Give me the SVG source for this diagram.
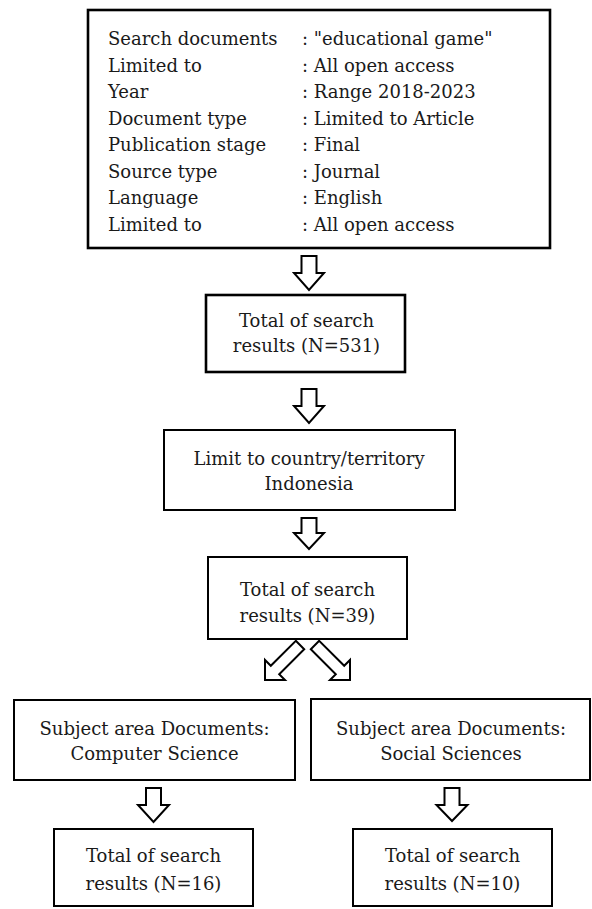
<svg xmlns="http://www.w3.org/2000/svg" width="592" height="909" viewBox="0 0 592 909">
<style>
  .box { fill: #ffffff; stroke: #000000; stroke-width: 2; }
  .thick { stroke-width: 2.6; }
  .t { font-family: "DejaVu Serif", "Liberation Serif", serif; font-size: 18px; fill: #1a1a1a; }
  .c { text-anchor: middle; }
  .arrow { fill: #ffffff; stroke: #000000; stroke-width: 2; stroke-linejoin: miter; }
</style>
<rect width="592" height="909" fill="#ffffff"/>

<g id="criteria">
  <rect class="box thick" x="88" y="10" width="462" height="238"/>
  <text class="t" x="108" y="45">Search documents</text>
  <text class="t" x="302" y="45">: "educational game"</text>
  <text class="t" x="108" y="71.5">Limited to</text>
  <text class="t" x="302" y="71.5">: All open access</text>
  <text class="t" x="108" y="98">Year</text>
  <text class="t" x="302" y="98">: Range 2018-2023</text>
  <text class="t" x="108" y="124.5">Document type</text>
  <text class="t" x="302" y="124.5">: Limited to Article</text>
  <text class="t" x="108" y="151">Publication stage</text>
  <text class="t" x="302" y="151">: Final</text>
  <text class="t" x="108" y="177.5">Source type</text>
  <text class="t" x="302" y="177.5">: Journal</text>
  <text class="t" x="108" y="204">Language</text>
  <text class="t" x="302" y="204">: English</text>
  <text class="t" x="108" y="230.5">Limited to</text>
  <text class="t" x="302" y="230.5">: All open access</text>
</g>

<g id="total531">
  <rect class="box thick" x="206" y="295" width="199" height="77"/>
  <text class="t c" x="306.5" y="327">Total of search</text>
  <text class="t c" x="306.5" y="352">results (N=531)</text>
</g>

<g id="country">
  <rect class="box" x="164" y="430" width="291" height="80"/>
  <text class="t c" x="309" y="465">Limit to country/territory</text>
  <text class="t c" x="309" y="490">Indonesia</text>
</g>

<g id="total39">
  <rect class="box" x="208" y="557" width="199" height="82"/>
  <text class="t c" x="307.5" y="596">Total of search</text>
  <text class="t c" x="307.5" y="622">results (N=39)</text>
</g>

<g id="cs">
  <rect class="box" x="14" y="700" width="281" height="80"/>
  <text class="t c" x="154.5" y="735">Subject area Documents:</text>
  <text class="t c" x="154.5" y="760">Computer Science</text>
</g>

<g id="social">
  <rect class="box" x="311" y="699" width="279" height="81"/>
  <text class="t c" x="451" y="735">Subject area Documents:</text>
  <text class="t c" x="451" y="760">Social Sciences</text>
</g>

<g id="total16">
  <rect class="box" x="54" y="829" width="199" height="77"/>
  <text class="t c" x="153.5" y="862">Total of search</text>
  <text class="t c" x="153.5" y="890">results (N=16)</text>
</g>

<g id="total10">
  <rect class="box" x="353" y="829" width="199" height="77"/>
  <text class="t c" x="452.5" y="862">Total of search</text>
  <text class="t c" x="452.5" y="890">results (N=10)</text>
</g>

<g id="connectors">
  <polygon class="arrow" points="301.5,256 316.5,256 316.5,273 324,273 309,290 294,273 301.5,273"/>
  <polygon class="arrow" points="301.5,389 316.5,389 316.5,406 324,406 309,423 294,406 301.5,406"/>
  <polygon class="arrow" points="301.5,518 316.5,518 316.5,533 324,533 309,549 294,533 301.5,533"/>
  <polygon class="arrow" points="295.8,640.8 304.2,649.2 279.2,674.2 285,680 265,680 265,660 270.8,665.8"/>
  <polygon class="arrow" points="319.2,640.8 310.8,649.2 335.8,674.2 330,680 350,680 350,660 344.2,665.8"/>
  <polygon class="arrow" points="146,788 161,788 161,805 169,805 153.5,822 138,805 146,805"/>
  <polygon class="arrow" points="444.5,788 459.5,788 459.5,805 467.5,805 452,821 436.5,805 444.5,805"/>
</g>
</svg>
